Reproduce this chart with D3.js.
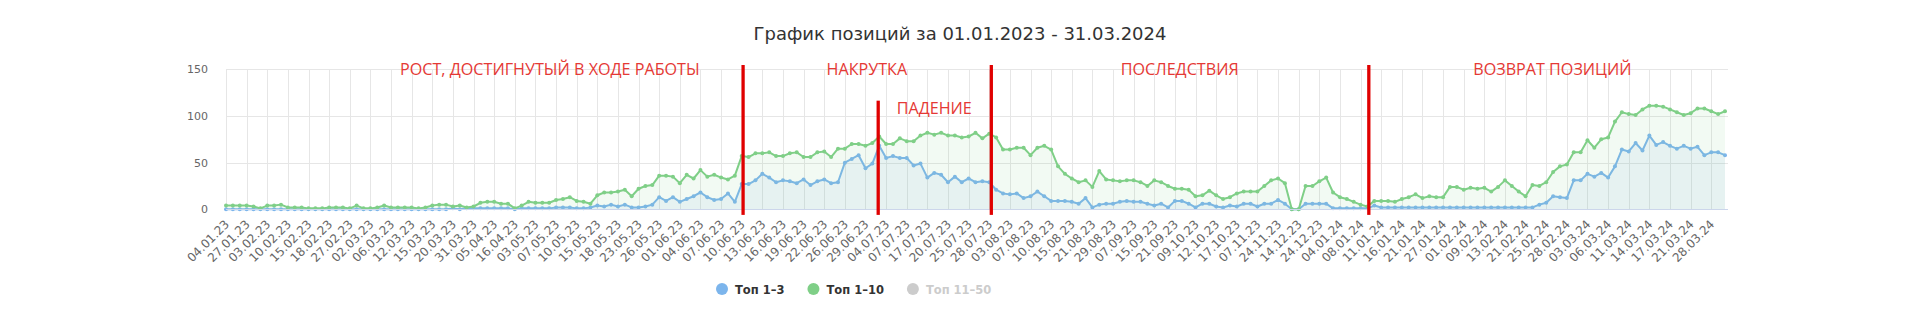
<!DOCTYPE html>
<html>
<head>
<meta charset="utf-8">
<script src="https://cdn.jsdelivr.net/npm/d3@7"></script>
<style>
  html, body { margin: 0; padding: 0; background: #fff; }
  svg { display: block; }
  text { font-family: "DejaVu Sans", sans-serif; }
</style>
</head>
<body>
<svg id="chart" width="1920" height="320"></svg>
<script>
// подписи оси X (каждая третья точка)
var tickLabels = ['04.01.23','27.01.23','03.02.23','10.02.23','15.02.23','18.02.23','27.02.23','02.03.23','06.03.23','12.03.23',
    '15.03.23','20.03.23','31.03.23','05.04.23','16.04.23','03.05.23','07.05.23','10.05.23','15.05.23','18.05.23',
    '23.05.23','26.05.23','01.06.23','04.06.23','07.06.23','10.06.23','13.06.23','16.06.23','19.06.23','22.06.23',
    '26.06.23','29.06.23','04.07.23','07.07.23','17.07.23','20.07.23','25.07.23','28.07.23','03.08.23','07.08.23',
    '10.08.23','15.08.23','21.08.23','29.08.23','07.09.23','15.09.23','21.09.23','09.10.23','12.10.23','17.10.23',
    '07.11.23','24.11.23','14.12.23','24.12.23','04.01.24','08.01.24','11.01.24','16.01.24','21.01.24','27.01.24',
    '01.02.24','09.02.24','13.02.24','21.02.24','25.02.24','28.02.24','03.03.24','06.03.24','11.03.24','14.03.24',
    '17.03.24','21.03.24','28.03.24']
var tickStep = 3

var top3 = [0,0,0,0,0,0,0,0,0,0, 0,0,0,0,0,0,0,0,0,0, 0,0,0,0,0,0,0,0,0,0,
    0,0,0,1,0,1,1,1,1,1, 1,1,0,1,1,1,1,1,2,2, 2,1,1,2,
    4,3,5,3,5,2,2,3,5,13,9,13,8,
    11,14,18,13,10,11,17,8,27,27, 31,38,34,29,31,30,28,32,26,30,
    32,28,29,50,54,58,44,49,68,55, 57,55,55,47,49,34,39,37,29,35,
    29,33,29,30,29,21,17,16,17,12, 14,19,14,9,9,9,8,6,12,2,
    5,6,6,8,9,8,8,6,4,
    6,2,9,9,6,2,6,6,3,2, 4,3,6,6,3,6,6,10,6,0,
    0,6,6,6,6,1,1,1,1,1, 1,4,2,2,2,2,2,2,2,2,
    2,2,2,2,2,2,2,2,2,2, 2,2,2,2,2,5,7,14,13,12,
    31,31,38,35,39,34,46,64,62,71, 63,79,69,72,68,65,68,65,67,58,
    61,61,58]

var top10 = [4,4,4,4,3,1,4,4,5,2, 2,2,1,1,1,2,2,2,1,4, 1,1,2,4,2,2,2,2,1,2,
    4,5,5,3,4,2,3,7,8,8, 6,6,1,4,8,7,7,7,10,11, 13,9,8,6,
    15,18,18,19,21,14,22,25,26,36,36,35,28,
    37,33,42,35,37,34,32,36,57,56, 60,60,61,57,57,60,61,56,56,61,
    62,56,65,65,70,70,68,71,78,70, 70,76,73,73,79,82,80,82,79,79,
    77,78,82,76,81,77,64,64,66,66, 58,66,68,64,46,38,33,29,31,24,
    41,32,31,30,31,31,29,25,31,
    29,25,22,22,21,14,15,20,15,11, 13,17,19,19,19,25,31,33,28,0,
    0,25,25,30,34,18,13,11,8,5, 3,9,9,9,8,11,13,16,12,14,
    13,13,24,24,21,23,22,23,19,24, 31,25,19,14,26,25,29,40,46,48,
    61,61,74,66,75,77,94,104,102,101, 107,111,111,110,107,104,101,103,108,108,
    105,102,105]

var yTicks = [0, 50, 100, 150]
var seriesNames = ['Топ 1–3', 'Топ 1–10', 'Топ 11–50']
var chartTitle = 'График позиций за 01.01.2023 - 31.03.2024'

// пометки: позиция в индексах точек и значениях оси Y
var markLines = [
    {at: 75.2, from: -6, to: 154.6},
    {at: 94.85, from: -6, to: 116.4},
    {at: 111.3, from: -6, to: 154.6},
    {at: 166.2, from: -6, to: 154.6}
]
var markTexts = [
    {text: 'РОСТ, ДОСТИГНУТЫЙ В ХОДЕ РАБОТЫ', at: 47.1, v: 150},
    {text: 'НАКРУТКА', at: 93.2, v: 150},
    {text: 'ПАДЕНИЕ', at: 103.0, v: 108},
    {text: 'ПОСЛЕДСТВИЯ', at: 138.7, v: 150},
    {text: 'ВОЗВРАТ ПОЗИЦИЙ', at: 192.9, v: 150}
]

var svg = d3.select('#chart')
var blue = '#7cb5ec', green = '#7fcf87', grey = '#cccccc'

var x = d3.scaleLinear().domain([0, top10.length - 1]).range([226, 1725])
var y = d3.scaleLinear().domain([0, 150]).range([209.3, 69.3])
var plotRight = 1728

// title
svg.append('text')
    .attr('x', 960).attr('y', 40)
    .attr('text-anchor', 'middle')
    .style('font-size', '18px').style('fill', '#333')
    .text(chartTitle)

// grid
var tickIdx = d3.range(0, top10.length, tickStep).slice(0, tickLabels.length)
svg.append('g').selectAll('line')
    .data(tickIdx)
    .enter().append('line')
    .attr('x1', function(d) { return Math.round(x(d)) + 0.5 })
    .attr('x2', function(d) { return Math.round(x(d)) + 0.5 })
    .attr('y1', y(150)).attr('y2', y(0))
    .attr('stroke', '#e6e6e6')
svg.append('g').selectAll('line')
    .data(yTicks.slice(1))
    .enter().append('line')
    .attr('x1', x(0)).attr('x2', plotRight)
    .attr('y1', function(d) { return Math.round(y(d)) + 0.5 })
    .attr('y2', function(d) { return Math.round(y(d)) + 0.5 })
    .attr('stroke', '#e6e6e6')

// y labels
svg.append('g').selectAll('text')
    .data(yTicks)
    .enter().append('text')
    .attr('x', 208).attr('y', function(d) { return y(d) + 4 })
    .attr('text-anchor', 'end')
    .style('font-size', '11px').style('fill', '#666')
    .text(function(d) { return d })

// x labels
svg.append('g').selectAll('text')
    .data(tickIdx)
    .enter().append('text')
    .attr('text-anchor', 'end')
    .attr('transform', function(d) { return 'translate(' + (x(d) + 4) + ',' + 225 + ') rotate(-45)' })
    .style('font-size', '12px').style('fill', '#666')
    .text(function(d, i) { return tickLabels[i] })

// series
function drawSeries(values, color) {
    var g = svg.append('g')
    var area = d3.area()
        .x(function(d, i) { return x(i) })
        .y0(y(0))
        .y1(function(d) { return y(d) })
    var line = d3.line()
        .x(function(d, i) { return x(i) })
        .y(function(d) { return y(d) })
    g.append('path').attr('d', area(values))
        .attr('fill', color).attr('fill-opacity', 0.1)
    g.append('path').attr('d', line(values))
        .attr('fill', 'none').attr('stroke', color).attr('stroke-width', 2)
        .attr('stroke-linejoin', 'round')
    g.selectAll('circle')
        .data(values)
        .enter().append('circle')
        .attr('cx', function(d, i) { return x(i) })
        .attr('cy', function(d) { return y(d) })
        .attr('r', 2)
        .attr('fill', color)
}
drawSeries(top3, blue)
drawSeries(top10, green)

// axis line
svg.append('line')
    .attr('x1', x(0)).attr('x2', plotRight)
    .attr('y1', Math.round(y(0)) + 0.5).attr('y2', Math.round(y(0)) + 0.5)
    .attr('stroke', '#ccd6eb')

// red annotations
svg.append('g').selectAll('line')
    .data(markLines)
    .enter().append('line')
    .attr('x1', function(d) { return x(d.at) })
    .attr('x2', function(d) { return x(d.at) })
    .attr('y1', function(d) { return y(d.to) })
    .attr('y2', function(d) { return y(d.from) })
    .attr('stroke', '#e00000').attr('stroke-width', 3.3)
svg.append('g').selectAll('text')
    .data(markTexts)
    .enter().append('text')
    .attr('transform', function(d) { return 'translate(' + x(d.at) + ',' + y(d.v) + ') scale(0.95,1)' })
    .attr('text-anchor', 'middle')
    .attr('dy', '0.35em')
    .style('font-family', '"Open Sans", sans-serif')
    .style('font-size', '17px').style('fill', '#e53935')
    .text(function(d) { return d.text })

// legend
var legendColors = [blue, green, grey]
var lx = 716
seriesNames.forEach(function(name, i) {
    var item = svg.append('g').attr('transform', 'translate(' + lx + ',289)')
    item.append('circle').attr('cx', 6).attr('cy', 0).attr('r', 6).attr('fill', legendColors[i])
    var t = item.append('text').attr('x', 19).attr('y', 4.5)
        .style('font-size', '11.5px').style('font-weight', 'bold')
        .style('fill', i == 2 ? grey : '#333')
        .text(name)
    lx += 19 + t.node().getComputedTextLength() + 23
})
</script>
</body>
</html>
